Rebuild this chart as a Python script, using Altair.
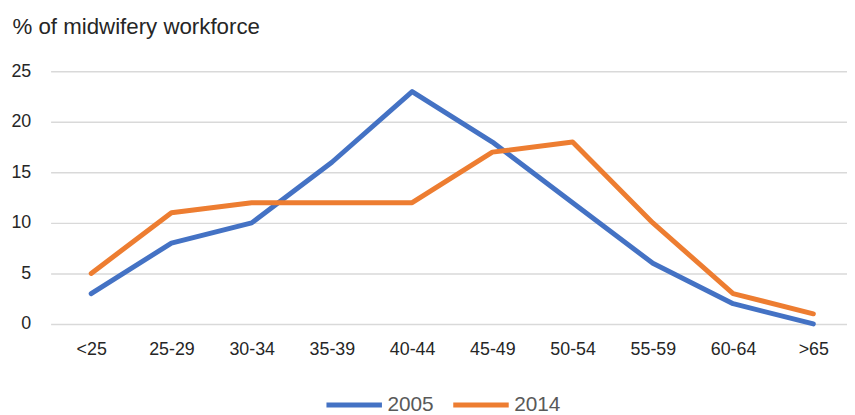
import altair as alt
import pandas as pd

age_groups = ["<25", "25-29", "30-34", "35-39", "40-44", "45-49", "50-54", "55-59", "60-64", ">65"]
series_2005 = [3, 8, 10, 16, 23, 18, 12, 6, 2, 0]
series_2014 = [5, 11, 12, 12, 12, 17, 18, 10, 3, 1]
series_names = ["2005", "2014"]
colors = ["#4472C4", "#ED7D31"]

rows = []
for name, vals in zip(series_names, [series_2005, series_2014]):
    for g, v in zip(age_groups, vals):
        rows.append({"age": g, "pct": v, "year": name})
df = pd.DataFrame(rows)

FONT = "Liberation Sans"

chart = alt.Chart(df).mark_line(strokeWidth=5, strokeCap="round", strokeJoin="round").encode(
    x=alt.X("age:N", sort=age_groups,
            scale=alt.Scale(type="point", range=[0, 811], padding=0.506),
            axis=alt.Axis(title=None, labelAngle=0, domain=False, ticks=False, grid=False,
                          labelPadding=17, labelFontSize=18, labelColor="#262626", labelFont=FONT)),
    y=alt.Y("pct:Q", scale=alt.Scale(domain=[0, 25], nice=False),
            axis=alt.Axis(values=[0, 5, 10, 15, 20, 25], title="% of midwifery workforce",
                          titleAngle=0, titleAlign="left", titleBaseline="alphabetic",
                          titleX=-39, titleY=-38, titleFontSize=22.5, titleFontWeight="normal",
                          titleColor="#262626", titleFont=FONT,
                          domain=False, ticks=False, labelPadding=20, labelFontSize=18,
                          labelColor="#262626", labelFont=FONT,
                          gridColor="#D9D9D9", gridWidth=1.5)),
    color=alt.Color("year:N", scale=alt.Scale(domain=series_names, range=colors),
                    legend=alt.Legend(title=None, orient="none", legendX=276, legendY=306,
                                      direction="horizontal", symbolType="stroke",
                                      symbolSize=3136, symbolStrokeWidth=5,
                                      labelFontSize=21, labelColor="#595959", labelFont=FONT,
                                      columnPadding=9, labelOffset=3, padding=0)),
).properties(
    width=800, height=255,
    autosize=alt.AutoSizeParams(type="none"),
    padding={"left": 43, "top": 62, "right": 4, "bottom": 89},
).configure_view(stroke=None)

chart.save("out.html", embed_options={"renderer": "svg", "actions": False})
